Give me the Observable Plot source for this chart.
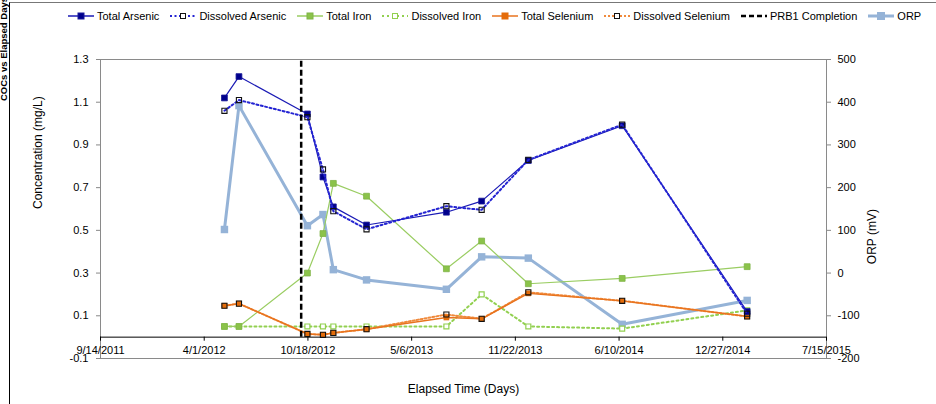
<!DOCTYPE html>
<html>
<head>
<meta charset="utf-8">
<script src="https://cdn.jsdelivr.net/npm/d3@7"></script>
<script src="https://cdn.jsdelivr.net/npm/@observablehq/plot@0.6"></script>
<style>
  body { margin: 0; background: #fff; font-family: "Liberation Sans", Arial, sans-serif; }
  #wrap { position: relative; width: 936px; height: 404px; overflow: hidden; background: #fff; }
  #border { position: absolute; left: 9px; top: 2px; width: 940px; height: 420px; border-top: 1.5px solid #777; border-left: 1px solid #000; }
  #chart { position: absolute; left: 0; top: 0; }
  #legend { position: absolute; left: 68px; top: 10px; display: flex; align-items: center; font-size: 11px; white-space: nowrap; color: #000; }
  .item { display: flex; align-items: center; margin-right: 11px; }
  .item svg { margin-right: 3px; display: block; }
  #title { position: absolute; left: 3px; top: 49px; transform: translate(-50%, -50%) rotate(-90deg); font-weight: bold; font-size: 9.5px; white-space: nowrap; color: #000; }
</style>
</head>
<body>
<div id="wrap">
  <div id="border"></div>
  <div id="title">COCs vs Elapsed Days</div>
  <div id="chart"></div>
  <div id="legend"></div>
</div>
<script>
// ---- data ----
const sampleDates = ["2012-05-10","2012-06-07","2012-10-17","2012-11-16","2012-12-06","2013-02-08","2013-07-12","2013-09-18","2013-12-17","2014-06-16","2015-02-12"];
const totalArsenic      = [1.12, 1.22, 1.045, 0.75, 0.61, 0.525, 0.585, 0.637, 0.827, 0.99, 0.12];
const dissolvedArsenic  = [1.06, 1.11, 1.03, 0.785, 0.59, 0.505, 0.613, 0.596, 0.83, 0.995, 0.11];
const totalIron         = [0.05, 0.05, 0.30, 0.485, 0.72, 0.66, 0.32, 0.45, 0.25, 0.275, 0.33];
const dissolvedIron     = [0.05, 0.05, 0.05, 0.05, 0.05, 0.05, 0.05, 0.20, 0.05, 0.04, 0.125];
const totalSelenium     = [0.147, 0.157, 0.015, 0.011, 0.02, 0.037, 0.092, 0.086, 0.205, 0.17, 0.097];
const dissolvedSelenium = [0.147, 0.157, 0.015, 0.011, 0.02, 0.037, 0.106, 0.086, 0.21, 0.17, 0.097];
const orpValues         = [102, 392, 111, 137, 8, -16, -38, 38, 35, -120, -64];
const prb1Completion = ["2012-10-05"];
const xDomain = ["2011-09-14", "2015-07-15"];
const xTickDates = ["2011-09-14","2012-04-01","2012-10-18","2013-05-06","2013-11-22","2014-06-10","2014-12-27","2015-07-15"];
const concTicks = [-0.1, 0.1, 0.3, 0.5, 0.7, 0.9, 1.1, 1.3];
const orpTicks = [-200, -100, 0, 100, 200, 300, 400, 500];
const concDomain = [-0.1, 1.3];
const orpDomain = [-200, 500];

// ---- helpers ----
const parse = d3.utcParse("%Y-%m-%d");
const fmtDate = d3.utcFormat("%-m/%-d/%Y");
// ORP secondary axis mapped linearly onto the concentration scale
const orpToConc = v => concDomain[0] + (v - orpDomain[0]) / (orpDomain[1] - orpDomain[0]) * (concDomain[1] - concDomain[0]);
const concToOrp = c => orpDomain[0] + (c - concDomain[0]) / (concDomain[1] - concDomain[0]) * (orpDomain[1] - orpDomain[0]);

const rows = sampleDates.map((d, i) => ({
  date: parse(d),
  ta: totalArsenic[i], da: dissolvedArsenic[i],
  ti: totalIron[i], di: dissolvedIron[i],
  ts: totalSelenium[i], ds: dissolvedSelenium[i],
  orp: orpValues[i]
}));
const xTicks = xTickDates.map(parse);

const C = {
  ta: "#1B1BB5", taM: "#00008C",
  da: "#2424D2",
  ti: "#9ACD62", tiM: "#8BC34A",
  di: "#92D050",
  ts: "#E8731E", tsM: "#E46C0A",
  ds: "#F08A3C",
  orp: "#95B3D7"
};

const sq = (field, opts) => Plot.dot(rows, {x: "date", y: field, symbol: "square", ...opts});

const chart = Plot.plot({
  width: 936,
  height: 404,
  marginLeft: 100,
  marginRight: 110,
  marginTop: 59,
  marginBottom: 46,
  style: {fontFamily: "'Liberation Sans', Arial, sans-serif", fontSize: "11px", background: "transparent", color: "#000"},
  x: {type: "utc", domain: xDomain.map(parse), axis: null},
  y: {domain: concDomain, axis: null},
  marks: [
    Plot.frame({stroke: "#8a8a8a"}),
    // left axis
    Plot.axisY({anchor: "left", ticks: concTicks, tickFormat: d => d.toFixed(1), tickSize: 4, tickPadding: 8, stroke: "#888", label: null}),
    // right axis (ORP)
    Plot.axisY({anchor: "right", ticks: orpTicks.map(orpToConc), tickFormat: d => String(Math.round(concToOrp(d))), tickSize: 4, tickPadding: 7, stroke: "#888", label: null}),
    // x axis drawn at concentration 0
    Plot.ruleY([0], {stroke: "#000", strokeWidth: 1}),
    Plot.ruleX(xTicks, {x: d => d, y1: 0, y2: -0.019, stroke: "#000"}),
    Plot.text(xTicks, {x: d => d, y: 0, dy: 13, text: d => fmtDate(d), fontSize: 11, fill: "#000"}),
    // axis titles
    Plot.text(["Concentration (mg/L)"], {frameAnchor: "left", dx: -62, rotate: -90, fontSize: 12, fill: "#000"}),
    Plot.text(["ORP (mV)"], {frameAnchor: "right", dx: 46, rotate: -90, fontSize: 12, fill: "#000"}),
    Plot.text(["Elapsed Time (Days)"], {frameAnchor: "bottom", dy: 34, fontSize: 12, fill: "#000"}),

    // ORP
    Plot.line(rows, {x: "date", y: d => orpToConc(d.orp), stroke: C.orp, strokeWidth: 3}),
    Plot.dot(rows, {x: "date", y: d => orpToConc(d.orp), symbol: "square", r: 4.2, fill: C.orp}),

    // Iron
    Plot.line(rows, {x: "date", y: "di", stroke: C.di, strokeWidth: 2, strokeDasharray: "2,3"}),
    sq("di", {r: 2.8, fill: "white", stroke: C.di, strokeWidth: 1.2}),
    Plot.line(rows, {x: "date", y: "ti", stroke: C.ti, strokeWidth: 1.2}),
    sq("ti", {r: 3.3, fill: C.tiM, stroke: "#7fb446", strokeWidth: 0.8}),

    // Selenium
    Plot.line(rows, {x: "date", y: "ds", stroke: C.ds, strokeWidth: 2, strokeDasharray: "2,2"}),
    Plot.line(rows, {x: "date", y: "ts", stroke: C.ts, strokeWidth: 1.4}),
    sq("ts", {r: 3.2, fill: C.tsM}),
    sq("ds", {r: 2.9, fill: "none", stroke: "#111", strokeWidth: 1.1}),

    // Arsenic
    Plot.line(rows, {x: "date", y: "ta", stroke: C.ta, strokeWidth: 1.2}),
    sq("ta", {r: 3.3, fill: C.taM, stroke: "#1a1a9a", strokeWidth: 0.8}),
    Plot.line(rows, {x: "date", y: "da", stroke: C.da, strokeWidth: 2, strokeDasharray: "2,2.5"}),
    sq("da", {r: 2.9, fill: "none", stroke: "#111", strokeWidth: 1.1}),

    // PRB1 completion
    Plot.ruleX(prb1Completion.map(parse), {x: d => d, y1: 0, y2: concDomain[1], stroke: "#000", strokeWidth: 2.5, strokeDasharray: "6,3"})
  ]
});
document.getElementById("chart").appendChild(chart);

// ---- legend ----
const legendItems = [
  {name: "Total Arsenic", color: C.ta, dash: null, width: 1.5, mFill: C.taM, mStroke: "#1a1a9a", size: 6},
  {name: "Dissolved Arsenic", color: C.da, dash: "2,2.5", width: 2, mFill: "white", mStroke: "#111", size: 5},
  {name: "Total Iron", color: C.ti, dash: null, width: 1.5, mFill: C.tiM, mStroke: "#7fb446", size: 6},
  {name: "Dissolved Iron", color: C.di, dash: "2,3", width: 2, mFill: "white", mStroke: C.di, size: 5},
  {name: "Total Selenium", color: C.ts, dash: null, width: 1.5, mFill: C.tsM, mStroke: C.tsM, size: 6},
  {name: "Dissolved Selenium", color: C.ds, dash: "2,2", width: 2, mFill: "white", mStroke: "#111", size: 5},
  {name: "PRB1 Completion", color: "#000", dash: "5,3", width: 2.5, mFill: null, size: 0},
  {name: "ORP", color: C.orp, dash: null, width: 3, mFill: C.orp, mStroke: C.orp, size: 7}
];
const legend = document.getElementById("legend");
for (const it of legendItems) {
  const div = document.createElement("div");
  div.className = "item";
  const w = 26, h = 10;
  let svg = `<svg width="${w}" height="${h}" viewBox="0 0 ${w} ${h}"><line x1="0" x2="${w}" y1="${h/2}" y2="${h/2}" stroke="${it.color}" stroke-width="${it.width}"${it.dash ? ` stroke-dasharray="${it.dash}"` : ""}/>`;
  if (it.mFill) {
    svg += `<rect x="${w/2 - it.size/2}" y="${h/2 - it.size/2}" width="${it.size}" height="${it.size}" fill="${it.mFill}" stroke="${it.mStroke}" stroke-width="1"/>`;
  }
  svg += `</svg>`;
  div.innerHTML = svg + `<span>${it.name}</span>`;
  legend.appendChild(div);
}
</script>
</body>
</html>
